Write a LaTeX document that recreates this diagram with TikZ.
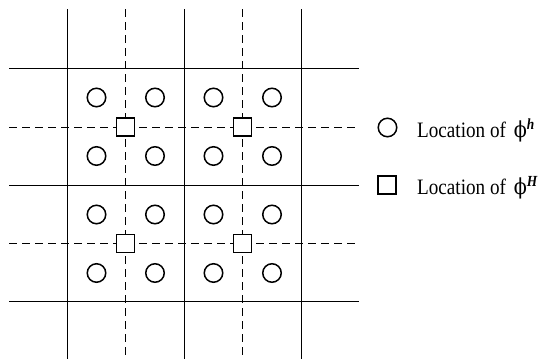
\documentclass[tikz,border=0pt]{standalone}
\usepackage{fontspec}
\setmainfont{Liberation Serif}
\newfontfamily\greekfont{DejaVu Serif}
\begin{document}
\begin{tikzpicture}[x=1pt,y=-1pt,
  solidline/.style={line width=1pt,black},
  dashline/.style={line width=1pt,black,dash pattern=on 8pt off 5pt},
  finept/.style={circle,draw,line width=1.5pt,minimum size=18.5pt,inner sep=0pt,fill=white},
  coarsept/.style={rectangle,draw,line width=1.5pt,minimum size=18pt,inner sep=0pt,fill=white},
  legtext/.style={anchor=base west,inner sep=0pt,font=\fontsize{22}{24}\selectfont}]
\useasboundingbox (0,0) rectangle (542,360);
% dashed lines (coarse grid)
\foreach \x in {125.5,242.5} \draw[dashline] (\x,9) -- (\x,359);
\foreach \y in {127,243.5} \draw[dashline] (9,\y) -- (359,\y);
% solid lines (fine grid)
\foreach \x in {67,184,301} \draw[solidline] (\x,9) -- (\x,359);
\foreach \y in {68,185.5,301.5} \draw[solidline] (9,\y) -- (359,\y);
% fine points
\foreach \x [count=\i] in {96.5,155,213.5,272}
  \foreach \y [count=\j] in {97.5,156,214.5,273}
    \node[finept] (c\i\j) at (\x,\y) {};
% coarse points
\node[coarsept] (s11) at (125.5,127) {};
\node[coarsept] (s21) at (242.5,127) {};
\node[coarsept] (s12) at (125.5,243.5) {};
\node[coarsept] (s22) at (242.5,243.5) {};
% legend
\node[finept] (lc) at (387.5,127.5) {};
\node[coarsept] (ls) at (387,185) {};
\node[legtext] (lt1) at (417,137.5) {\scalebox{0.87}[1]{Location of \,{\greekfont ϕ}\textsuperscript{\textbf{\textit{h}}}}};
\node[legtext] (lt2) at (417,194.5) {\scalebox{0.87}[1]{Location of \,{\greekfont ϕ}\textsuperscript{\textbf{\textit{H}}}}};
\end{tikzpicture}
\end{document}
